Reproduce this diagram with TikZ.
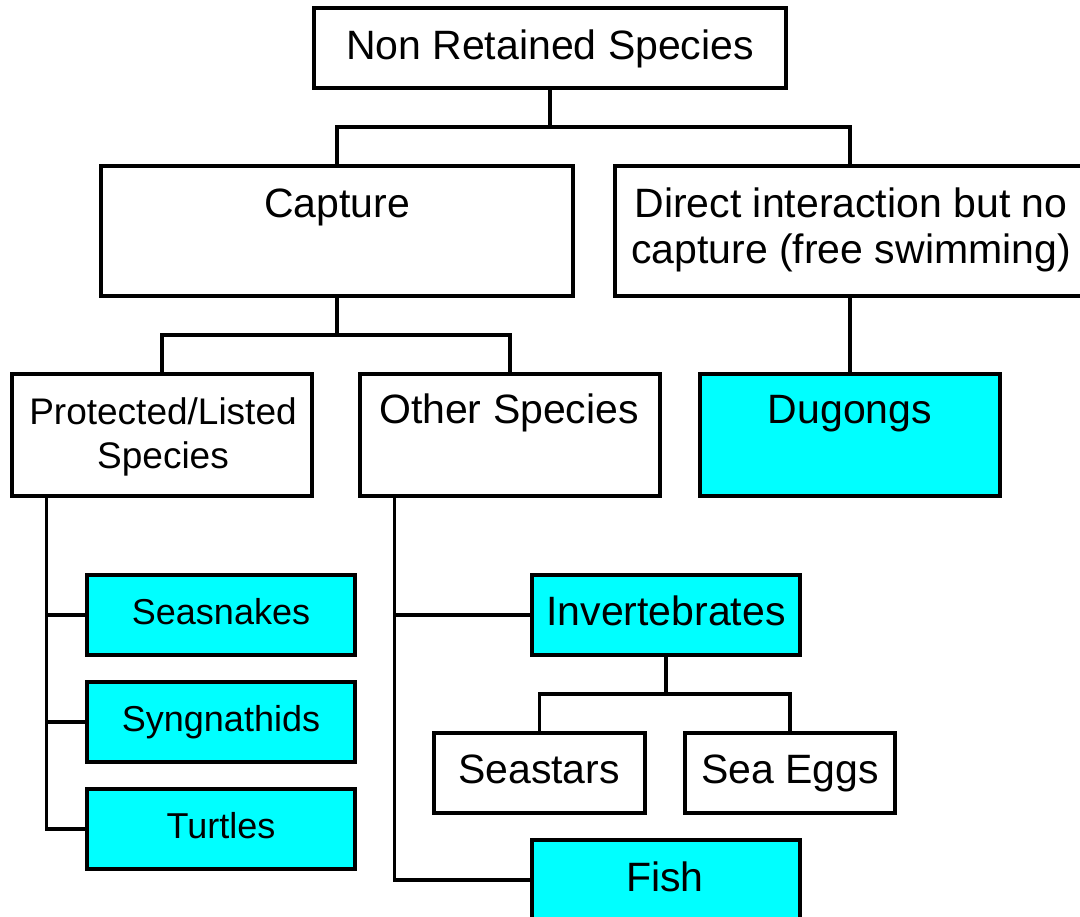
\documentclass[tikz,border=0pt]{standalone}
\usepackage{fontspec}
\setmainfont{Liberation Sans}
\definecolor{boxcyan}{HTML}{00FFFF}
\begin{document}
\begin{tikzpicture}[x=1pt,y=-1pt,
  box/.style={draw=black, line width=3.3pt, inner sep=0pt, fill=white},
  cyanbox/.style={box, fill=boxcyan},
  big/.style={font=\fontsize{41pt}{46pt}\selectfont, inner sep=0pt, anchor=base, align=center},
  small/.style={font=\fontsize{36pt}{44pt}\selectfont, inner sep=0pt, anchor=base, align=center},
  mid/.style={font=\fontsize{37pt}{44pt}\selectfont, inner sep=0pt, anchor=base, align=center},
  conn/.style={line width=3.3pt}]
\path[use as bounding box] (0,0) rectangle (1080,917);
\clip (0,0) rectangle (1080,917);

% boxes
\node[box, minimum width=472pt, minimum height=80pt] (nrs) at (550,48) {};
\node[box, minimum width=472pt, minimum height=130pt] (cap) at (337,231) {};
\node[box, minimum width=470pt, minimum height=130pt] (dir) at (850,231) {};
\node[box, minimum width=300pt, minimum height=122pt] (prot) at (162,435) {};
\node[box, minimum width=300pt, minimum height=122pt] (oth) at (510,435) {};
\node[cyanbox, minimum width=300pt, minimum height=122pt] (dug) at (850,435) {};
\node[cyanbox, minimum width=268pt, minimum height=80pt] (sea) at (221,615) {};
\node[cyanbox, minimum width=268pt, minimum height=80pt] (syn) at (221,722) {};
\node[cyanbox, minimum width=268pt, minimum height=80pt] (tur) at (221,829) {};
\node[cyanbox, minimum width=268pt, minimum height=80pt] (inv) at (666,615) {};
\node[box, minimum width=211pt, minimum height=80pt] (sst) at (539.5,773) {};
\node[box, minimum width=210pt, minimum height=80pt] (seg) at (790,773) {};
\node[cyanbox, minimum width=268pt, minimum height=80pt] (fish) at (666,880) {};

% connectors
\coordinate (j1) at (550,127);
\draw[conn] (nrs.south) -- (j1);
\draw[conn] (cap.north) |- (j1) -| (dir.north);
\coordinate (j2) at (337,335);
\draw[conn] (cap.south) -- (j2);
\draw[conn] (prot.north) |- (j2) -| (oth.north);
\draw[conn] (dir.south) -- (dug.north);
\coordinate (pl) at ([xshift=36pt]prot.south west);
\draw[conn] (pl) |- (tur.west);
\draw[conn] (sea.west) -- (sea.west -| pl);
\draw[conn] (syn.west) -- (syn.west -| pl);
\coordinate (ol) at ([xshift=36pt]oth.south west);
\draw[conn] (ol) |- (fish.west);
\draw[conn] (inv.west) -- (inv.west -| ol);
\coordinate (j3) at (666,694);
\draw[conn] (inv.south) -- (j3);
\draw[conn] (sst.north) |- (j3) -| (seg.north);

% texts
\node[big] (tnrs) at (550,60) {Non Retained Species};
\node[big] (tcap) at (337,218) {Capture};
\node[big] (tdir) at (851,264) {Direct interaction but no\\capture (free swimming)};
\node[mid] (tprot) at (163,468) {Protected/Listed\\Species};
\node[big] (toth) at (509,424) {Other Species};
\node[big] (tdug) at (850,424) {Dugongs};
\node[small] (tsea) at (221,624) {Seasnakes};
\node[small] (tsyn) at (221,731) {Syngnathids};
\node[small] (ttur) at (221,838) {Turtles};
\node[big] (tinv) at (666,625) {Invertebrates};
\node[big] (tsst) at (539,783) {Seastars};
\node[big] (tseg) at (790,783) {Sea Eggs};
\node[big] (tfish) at (665,891) {Fish};
\end{tikzpicture}
\end{document}
